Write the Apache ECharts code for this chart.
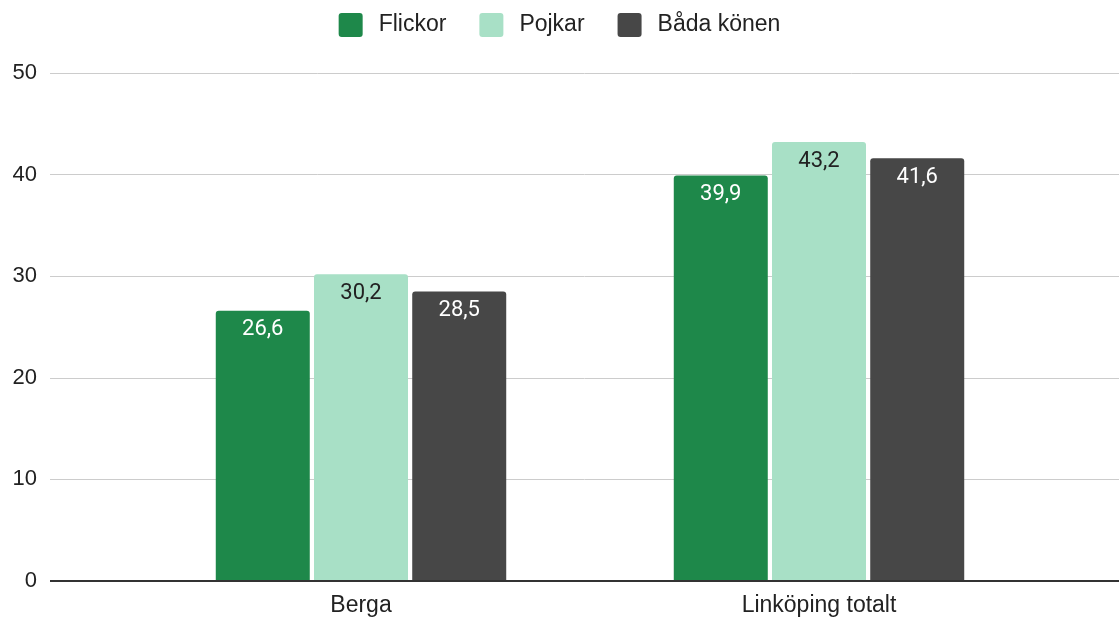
<!DOCTYPE html>
<html>
<head>
<meta charset="utf-8">
<script src="https://cdn.jsdelivr.net/npm/echarts@6/dist/echarts.min.js"></script>
<style>
html, body { margin: 0; padding: 0; background: #fff; }
#chart { width: 1119px; height: 624px; }
</style>
</head>
<body>
<div id="chart"></div>
<script>
const categories = ['Berga', 'Linköping totalt']
const flickor = [26.6, 39.9]
const pojkar = [30.2, 43.2]
const badaKonen = [28.5, 41.6]

const chart = echarts.init(document.getElementById('chart'))

// small square with slightly rounded corners, like the legend keys in the original
const legendIcon = 'path://M3,0 H21 A3,3 0 0 1 24,3 V21 A3,3 0 0 1 21,24 H3 A3,3 0 0 1 0,21 V3 A3,3 0 0 1 3,0 Z'

function bar(name, data, color, labelColor) {
    return {
        name: name,
        type: 'bar',
        xAxisIndex: 1,
        yAxisIndex: 1,
        data: data,
        barWidth: 94,
        barGap: '4.5%',
        itemStyle: { color: color, borderRadius: [3, 3, 0, 0] },
        label: {
            show: true,
            position: 'insideTop',
            distance: 8,
            color: labelColor,
            fontFamily: 'Roboto',
            fontSize: 22,
            formatter: p => String(p.value).replace('.', ',')
        }
    }
}

chart.setOption({
    animation: false,
    legend: {
        top: 8,
        left: 'center',
        itemWidth: 24,
        itemHeight: 24,
        itemGap: 33,
        icon: legendIcon,
        textStyle: { fontFamily: 'Liberation Sans', fontSize: 23, color: '#222', padding: [0, 0, 0, 11] }
    },
    grid: [
        { left: 50, right: 0, top: 73, bottom: 43 },
        { left: 132, right: 71, top: 73, bottom: 43 }
    ],
    xAxis: [
        {
            gridIndex: 0, type: 'value', min: 0, max: 1,
            axisLine: { show: false }, axisTick: { show: false },
            axisLabel: { show: false }, splitLine: { show: false }
        },
        {
            gridIndex: 1, type: 'category', data: categories,
            axisLine: { show: false }, axisTick: { show: false },
            axisLabel: { color: '#222', fontFamily: 'Liberation Sans', fontSize: 23, margin: 13 }
        }
    ],
    yAxis: [
        {
            gridIndex: 0, type: 'value', min: 0, max: 50, interval: 10,
            axisLine: { show: false }, axisTick: { show: false },
            axisLabel: { color: '#222', fontFamily: 'Liberation Sans', fontSize: 22, margin: 13 },
            splitLine: { lineStyle: { color: '#cccccc', width: 1 } }
        },
        {
            gridIndex: 1, type: 'value', min: 0, max: 50, interval: 10,
            axisLine: { show: false }, axisTick: { show: false },
            axisLabel: { show: false }, splitLine: { show: false }
        }
    ],
    series: [
        bar('Flickor', flickor, '#1e884a', '#ffffff'),
        bar('Pojkar', pojkar, '#a8e0c6', '#222222'),
        bar('Båda könen', badaKonen, '#474747', '#ffffff'),
        {
            type: 'line',
            xAxisIndex: 0,
            yAxisIndex: 0,
            data: [[0, 0], [1, 0]],
            symbol: 'none',
            silent: true,
            z: 5,
            lineStyle: { color: '#333333', width: 2 }
        }
    ]
})
</script>
</body>
</html>
